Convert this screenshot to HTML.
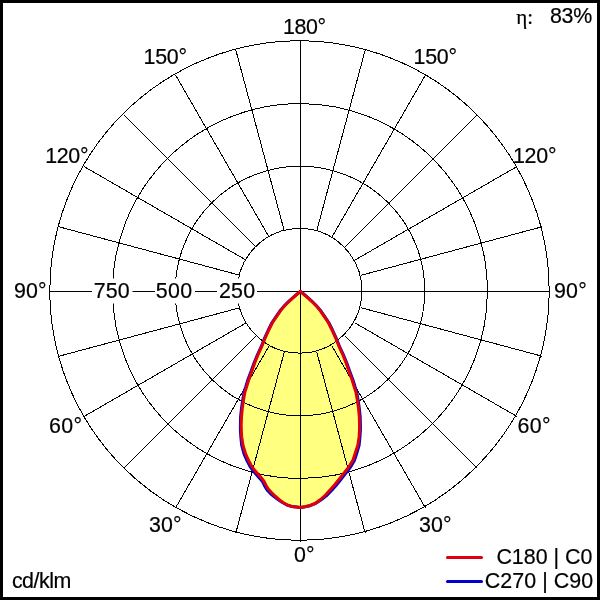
<!DOCTYPE html>
<html lang="en"><head><meta charset="utf-8"><title>Polar diagram</title>
<style>
html,body{margin:0;padding:0;background:#fff;}
body{width:600px;height:600px;overflow:hidden;position:relative;}
svg{position:absolute;left:0;top:0;display:block;}
text{font-family:"Liberation Sans",Arial,sans-serif;font-size:21.4px;fill:#000;stroke:#000;stroke-width:0.2px;white-space:pre;}
.g{stroke:#000;stroke-width:1;fill:none;shape-rendering:crispEdges;}
</style></head><body>
<svg width="600" height="600" viewBox="0 0 600 600">
<rect x="0" y="0" width="600" height="600" fill="#000"/>
<rect x="3" y="3" width="594" height="594" fill="#fff"/>
<path d="M300.4 291.4 L296.7 294.6 L293.3 297.5 L289.2 301.3 L285.0 305.4 L280.8 310.4 L276.7 316.3 L272.5 322.5 L268.8 330.0 L265.0 338.3 L261.7 346.7 L257.9 355.0 L254.6 363.3 L251.7 371.7 L248.7 380.0 L246.4 387.5 L245.0 391.7 L243.5 400.0 L242.3 408.3 L241.5 416.7 L241.2 425.0 L241.3 430.0 L241.7 436.7 L242.9 445.0 L245.4 453.3 L248.6 460.5 L251.0 465.0 L254.0 469.5 L257.5 473.5 L261.0 477.5 L263.8 481.0 L265.8 485.0 L268.3 489.0 L271.5 492.5 L275.0 496.0 L279.0 499.5 L283.0 502.5 L287.0 504.8 L292.0 506.5 L300.4 507.4 L305.0 506.7 L310.0 505.5 L315.0 503.5 L320.5 499.5 L325.5 495.0 L330.0 490.0 L334.5 485.0 L338.5 480.0 L342.5 475.0 L346.5 470.0 L350.0 465.0 L353.0 460.0 L355.2 453.3 L357.9 445.0 L359.1 436.7 L359.5 430.0 L359.5 425.0 L359.3 416.7 L358.5 408.3 L357.3 400.0 L355.8 391.7 L354.4 387.5 L352.1 380.0 L349.1 371.7 L346.2 363.3 L342.9 355.0 L339.1 346.7 L335.8 338.3 L332.0 330.0 L328.3 322.5 L324.1 316.3 L320.0 310.4 L315.8 305.4 L311.6 301.3 L307.5 297.5 L304.1 294.6 L300.4 291.4 Z" fill="#ffff80" stroke="none"/>
<g class="g">
<circle cx="299.6" cy="290.8" r="62.3"/>
<circle cx="300" cy="291" r="124.8"/>
<circle cx="300" cy="291" r="187.4"/>
<circle cx="299.5" cy="290.5" r="249.7"/>
<line x1="316.68" y1="351.87" x2="365.20" y2="532.98"/>
<line x1="331.75" y1="345.63" x2="425.50" y2="508.01"/>
<line x1="344.69" y1="335.69" x2="477.28" y2="468.28"/>
<line x1="354.63" y1="322.75" x2="517.01" y2="416.50"/>
<line x1="360.87" y1="307.68" x2="541.98" y2="356.20"/>
<line x1="360.87" y1="275.32" x2="541.98" y2="226.80"/>
<line x1="354.63" y1="260.25" x2="517.01" y2="166.50"/>
<line x1="344.69" y1="247.31" x2="477.28" y2="114.72"/>
<line x1="331.75" y1="237.37" x2="425.50" y2="74.99"/>
<line x1="316.68" y1="231.13" x2="365.20" y2="50.02"/>
<line x1="284.32" y1="231.13" x2="235.80" y2="50.02"/>
<line x1="269.25" y1="237.37" x2="175.50" y2="74.99"/>
<line x1="256.31" y1="247.31" x2="123.72" y2="114.72"/>
<line x1="246.37" y1="260.25" x2="83.99" y2="166.50"/>
<line x1="240.13" y1="275.32" x2="59.02" y2="226.80"/>
<line x1="240.13" y1="307.68" x2="59.02" y2="356.20"/>
<line x1="246.37" y1="322.75" x2="83.99" y2="416.50"/>
<line x1="256.31" y1="335.69" x2="123.72" y2="468.28"/>
<line x1="269.25" y1="345.63" x2="175.50" y2="508.01"/>
<line x1="284.32" y1="351.87" x2="235.80" y2="532.98"/>
<line x1="300.5" y1="40" x2="300.5" y2="542"/>
<line x1="49" y1="291.5" x2="550" y2="291.5"/>
</g>
<rect x="92" y="278.5" width="40.5" height="25" fill="#fff"/>
<rect x="155" y="278.5" width="40" height="25" fill="#fff"/>
<rect x="217" y="278.5" width="40" height="25" fill="#fff"/>
<path d="M300.4 291.4 L296.6 294.5 L293.2 297.3 L289.0 301.1 L284.8 305.2 L280.5 310.2 L276.4 316.1 L272.2 322.3 L268.4 329.8 L264.6 338.1 L261.3 346.5 L257.4 354.8 L254.0 363.1 L251.0 371.4 L247.9 379.7 L245.6 387.3 L244.2 391.5 L242.7 399.9 L241.5 408.2 L240.6 416.6 L240.4 425.0 L240.4 430.0 L240.8 436.8 L241.7 445.3 L244.0 453.8 L247.2 461.1 L249.7 465.8 L252.8 470.4 L256.3 474.4 L259.8 478.4 L262.6 481.9 L264.6 485.9 L267.1 489.9 L270.4 493.5 L274.3 496.8 L278.6 500.0 L282.8 502.8 L286.9 505.0 L292.0 506.6 L300.4 507.5 L305.0 506.8 L310.1 505.7 L315.1 503.7 L320.9 500.0 L326.3 495.9 L331.1 491.0 L335.6 486.0 L339.7 481.0 L343.7 475.9 L347.7 470.9 L351.3 465.8 L354.4 460.6 L356.6 453.8 L359.1 445.3 L360.0 436.8 L360.4 430.0 L360.4 425.0 L360.2 416.6 L359.3 408.2 L358.1 399.9 L356.6 391.5 L355.2 387.3 L352.9 379.7 L349.8 371.4 L346.8 363.1 L343.4 354.8 L339.5 346.5 L336.2 338.1 L332.4 329.8 L328.6 322.3 L324.4 316.1 L320.3 310.2 L316.0 305.2 L311.8 301.1 L307.6 297.3 L304.2 294.5 L300.4 291.4 Z" fill="none" stroke="#0000d0" stroke-width="3" stroke-linejoin="round"/>
<path d="M300.4 291.4 L296.7 294.6 L293.3 297.5 L289.2 301.3 L285.0 305.4 L280.8 310.4 L276.7 316.3 L272.5 322.5 L268.8 330.0 L265.0 338.3 L261.7 346.7 L257.9 355.0 L254.6 363.3 L251.7 371.7 L248.7 380.0 L246.4 387.5 L245.0 391.7 L243.5 400.0 L242.3 408.3 L241.5 416.7 L241.2 425.0 L241.3 430.0 L241.7 436.7 L242.9 445.0 L245.4 453.3 L248.6 460.5 L251.0 465.0 L254.0 469.5 L257.5 473.5 L261.0 477.5 L263.8 481.0 L265.8 485.0 L268.3 489.0 L271.5 492.5 L275.0 496.0 L279.0 499.5 L283.0 502.5 L287.0 504.8 L292.0 506.5 L300.4 507.4 L305.0 506.7 L310.0 505.5 L315.0 503.5 L320.5 499.5 L325.5 495.0 L330.0 490.0 L334.5 485.0 L338.5 480.0 L342.5 475.0 L346.5 470.0 L350.0 465.0 L353.0 460.0 L355.2 453.3 L357.9 445.0 L359.1 436.7 L359.5 430.0 L359.5 425.0 L359.3 416.7 L358.5 408.3 L357.3 400.0 L355.8 391.7 L354.4 387.5 L352.1 380.0 L349.1 371.7 L346.2 363.3 L342.9 355.0 L339.1 346.7 L335.8 338.3 L332.0 330.0 L328.3 322.5 L324.1 316.3 L320.0 310.4 L315.8 305.4 L311.6 301.3 L307.5 297.5 L304.1 294.6 L300.4 291.4 Z" fill="none" stroke="#e0000c" stroke-width="3" stroke-linejoin="round"/>
<text x="283.0" y="34.0" style="letter-spacing:-0.38px">180°</text>
<text x="143.6" y="64.0" style="letter-spacing:-0.27px">150°</text>
<text x="413.6" y="64.0" style="letter-spacing:-0.27px">150°</text>
<text x="45.2" y="162.7" style="letter-spacing:-0.33px">120°</text>
<text x="512.9" y="162.7" style="letter-spacing:-0.21px">120°</text>
<text x="13.9" y="297.7" style="letter-spacing:0.15px">90°</text>
<text x="553.9" y="297.7" style="letter-spacing:0.26px">90°</text>
<text x="49.1" y="432.7" style="letter-spacing:0.29px">60°</text>
<text x="517.4" y="432.7" style="letter-spacing:0.40px">60°</text>
<text x="148.9" y="532.0" style="letter-spacing:0.16px">30°</text>
<text x="418.9" y="532.0" style="letter-spacing:0.15px">30°</text>
<text x="294.0" y="561.7" style="letter-spacing:0.10px">0°</text>
<text x="93.8" y="297.7" style="letter-spacing:0.04px">750</text>
<text x="155.8" y="297.7" style="letter-spacing:0.30px">500</text>
<text x="218.9" y="297.7" style="letter-spacing:0.24px">250</text>
<text x="11.9" y="587.7" style="letter-spacing:-0.48px">cd/klm</text>
<text x="549.9" y="22.5" style="letter-spacing:-0.22px">83%</text>
<text x="496.4" y="564.1" style="letter-spacing:0.02px">C180 | C0</text>
<text x="484.8" y="588.0" style="letter-spacing:0.05px">C270 | C90</text>
<text x="516.3" y="23.5" style="font-family:'Liberation Serif',serif;font-size:21px">η:</text>
<line x1="447.5" y1="557.5" x2="481.5" y2="557.5" stroke="#e0000c" stroke-width="3" stroke-linecap="round"/>
<line x1="447.5" y1="581.5" x2="481.5" y2="581.5" stroke="#0000d0" stroke-width="3" stroke-linecap="round"/>
</svg>
</body></html>
